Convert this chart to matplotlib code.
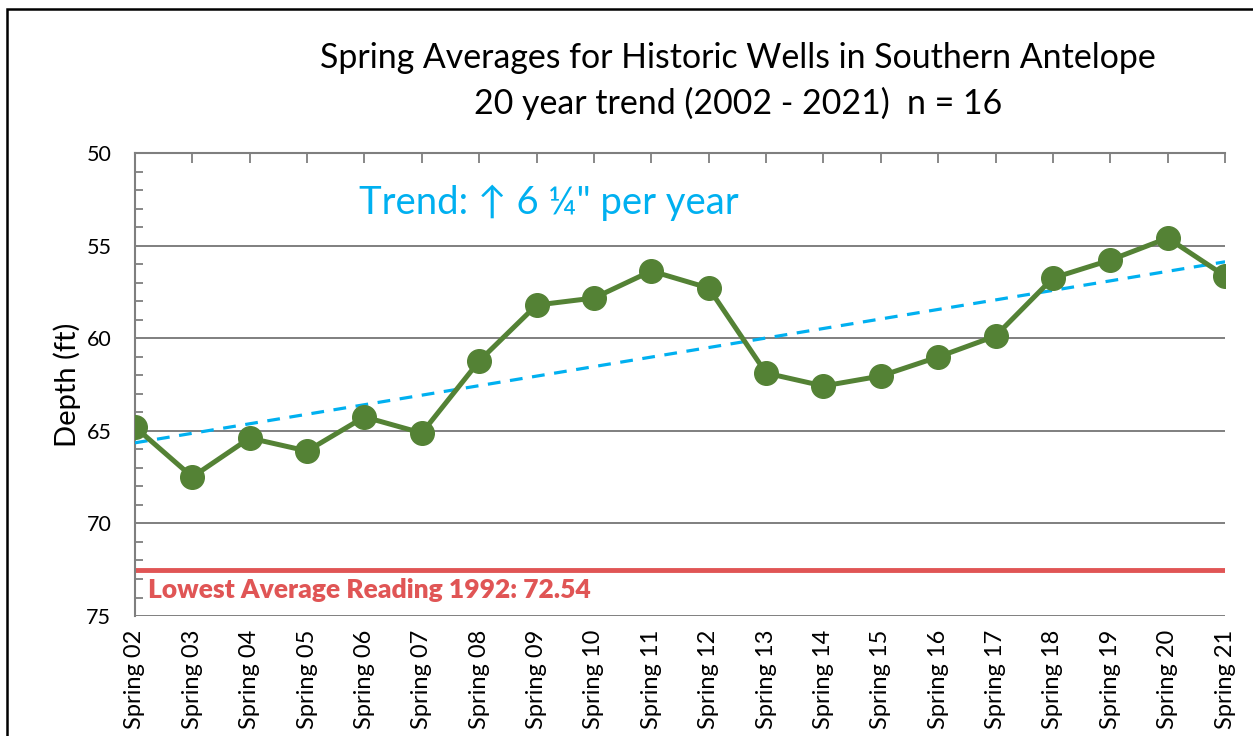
import matplotlib
matplotlib.use("Agg")
import matplotlib.pyplot as plt
from matplotlib.ticker import MultipleLocator
from matplotlib.patches import Rectangle
import numpy as np

# --- Data ---
seasons = ["Spring 02", "Spring 03", "Spring 04", "Spring 05", "Spring 06",
           "Spring 07", "Spring 08", "Spring 09", "Spring 10", "Spring 11",
           "Spring 12", "Spring 13", "Spring 14", "Spring 15", "Spring 16",
           "Spring 17", "Spring 18", "Spring 19", "Spring 20", "Spring 21"]
depths = [64.79, 67.49, 65.39, 66.09, 64.25, 65.12, 61.23, 58.21, 57.83, 56.37,
          57.29, 61.88, 62.58, 62.04, 61.01, 59.88, 56.75, 55.78, 54.59, 56.64]
lowest_1992 = 72.54

FONT = ["Lato", "DejaVu Sans"]
plt.rcParams["font.family"] = FONT

GREEN = "#548235"
BLUE = "#00B0F0"
RED = "#E05555"
GRAY = "#7F7F7F"

fig = plt.figure(figsize=(12.53, 7.36), dpi=100)
ax = fig.add_axes([0.1077, 0.163, 0.8700, 0.6291])

x = np.arange(len(seasons))

# linear trend (Excel-style trendline)
slope, icpt = np.polyfit(x, depths, 1)
ax.plot(x, slope * x + icpt, color=BLUE, lw=2.3, ls=(0, (4, 3)), zorder=3)

ax.plot(x, depths, color=GREEN, lw=3.6, marker="o", ms=17, zorder=4)

ax.axhline(lowest_1992, color=RED, lw=3.5, zorder=2)
ax.text(0.22, 73.6, "Lowest Average Reading 1992: 72.54", color=RED,
        fontsize=19, fontweight="heavy", va="center", ha="left")

ax.text(3.9, 52.7, "Trend: \u2191 6 \u00bc\" per year", color=BLUE,
        fontsize=27.5, va="center", ha="left", family=FONT)

# axes styling
ax.set_xlim(0, len(seasons) - 1)
ax.set_ylim(75, 50)
ax.yaxis.set_major_locator(MultipleLocator(5))
ax.yaxis.set_minor_locator(MultipleLocator(1))
ax.grid(axis="y", which="major", color=GRAY, lw=1.4, zorder=1)

ax.set_xticks(x)
ax.set_xticklabels(seasons, rotation=90, fontsize=17)
ax.tick_params(axis="x", which="both", bottom=False, top=True, labelbottom=True,
               direction="in", length=7, color=GRAY, width=1.3, pad=10)
ax.tick_params(axis="y", which="major", direction="in", length=0, labelsize=15.5, pad=17)
ax.tick_params(axis="y", which="minor", direction="in", length=6, color=GRAY, width=1.3)

for side in ["right", "bottom"]:
    ax.spines[side].set_visible(False)
for side in ["left", "top"]:
    ax.spines[side].set_color(GRAY)
    ax.spines[side].set_linewidth(1.5)

ax.set_ylabel("Depth (ft)", fontsize=21, labelpad=4)

fig.text(0.589, 0.921, "Spring Averages for Historic Wells in Southern Antelope",
         ha="center", va="center", fontsize=24.4)
fig.text(0.589, 0.860, "20 year trend (2002 - 2021)  n = 16",
         ha="center", va="center", fontsize=24.4)

# outer chart border (left and top visible in the crop)
fig.patches.append(Rectangle((0.0056, -0.05), 1.1, 1.0378, transform=fig.transFigure,
                             fill=False, edgecolor="black", lw=1.8))

fig.savefig("out.png", dpi=100)
